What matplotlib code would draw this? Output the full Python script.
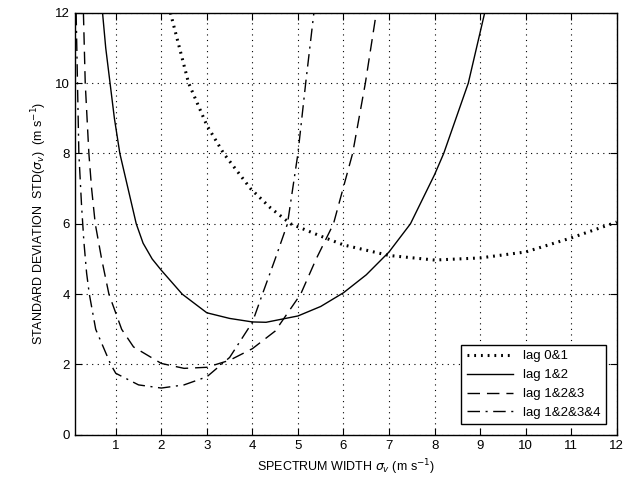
import matplotlib.pyplot as plt

plt.rcParams['font.family'] = ['Liberation Sans', 'DejaVu Sans']

# lag 0&1
x01 = [2.2, 2.6, 3.0, 3.37, 3.96, 4.4, 4.84, 5.5, 6.0, 7.0, 8.0, 9.0, 10.0, 11.0, 12.0]
y01 = [12, 10, 8.8, 8, 7, 6.45, 6.0, 5.65, 5.4, 5.1, 4.97, 5.03, 5.2, 5.6, 6.05]

# lag 1&2
x12 = [0.71, 0.78, 0.875, 0.97, 1.09, 1.27, 1.45, 1.6, 1.8, 2.0, 2.46, 3.0, 3.5, 4.0, 4.3,
       5.0, 5.5, 6.0, 6.5, 7.0, 7.47, 8.0, 8.2, 8.74, 9.1]
y12 = [12, 11, 10, 9, 8, 7, 6, 5.45, 5.0, 4.68, 4.0, 3.47, 3.31, 3.21, 3.2,
       3.38, 3.65, 4.04, 4.55, 5.2, 6.0, 7.4, 8.0, 10, 12]

# lag 1&2&3
x123 = [0.29, 0.33, 0.41, 0.47, 0.55, 0.69, 0.85, 1.13, 1.39, 2.0, 2.5, 3.0, 3.5, 4.0, 4.5,
        5.06, 5.4, 5.78, 6.2, 6.48, 6.72]
y123 = [12, 10, 8, 7, 6, 5, 4, 3, 2.5, 2.03, 1.89, 1.92, 2.12, 2.45, 2.95,
        4.0, 5.0, 6, 8, 10, 12]

# lag 1&2&3&4
x1234 = [0.13, 0.16, 0.19, 0.25, 0.3, 0.36, 0.42, 0.56, 0.89, 1.0, 1.5, 2.0, 2.5, 3.0, 3.5,
         4.0, 4.22, 4.5, 4.77, 5.0, 5.17, 5.35]
y1234 = [12, 10, 8, 6.5, 5.5, 4.6, 4, 3, 2, 1.75, 1.42, 1.33, 1.42, 1.65, 2.2,
         3.2, 4, 5.0, 6, 8, 10, 12]

labels = ['lag 0&1', 'lag 1&2', 'lag 1&2&3', 'lag 1&2&3&4']
xticks = list(range(1, 13))
yticks = list(range(0, 13, 2))

fig = plt.figure(figsize=(6.23, 4.93), dpi=100)
ax = fig.add_axes([0.120, 0.118, 0.870, 0.856])

ax.plot(x01, y01, color='black', lw=2.2, linestyle=(0, (0.6, 1.6)), label=labels[0])
ax.plot(x12, y12, color='black', lw=1.0, linestyle='-', label=labels[1])
ax.plot(x123, y123, color='black', lw=1.0, linestyle=(0, (9, 5)), label=labels[2])
ax.plot(x1234, y1234, color='black', lw=1.0, linestyle=(0, (9, 4, 1.5, 4)), label=labels[3])

ax.set_xlim(0.1, 12)
ax.set_ylim(0, 12)
ax.set_xticks(xticks)
ax.set_yticks(yticks)
ax.grid(True, color='black', linestyle=(0, (1, 4)), linewidth=0.8)
ax.tick_params(direction='in', top=True, right=True, labelsize=9.5, length=5)
for s in ax.spines.values():
    s.set_linewidth(1.0)

ax.set_xlabel('SPECTRUM WIDTH $\\sigma_v$ (m s$^{-1}$)', fontsize=9)
ax.set_ylabel('STANDARD DEVIATION  STD($\\sigma_v$)  (m s$^{-1}$)', fontsize=9)

leg = ax.legend(loc='lower right', fontsize=9.5, fancybox=False, framealpha=1,
                edgecolor='black', handlelength=3.5, borderaxespad=0.8)
leg.get_frame().set_linewidth(1.0)

fig.savefig('out.png', dpi=100)
